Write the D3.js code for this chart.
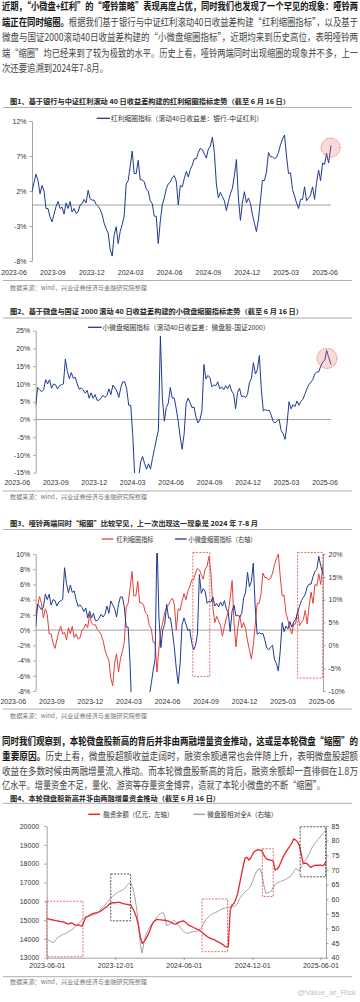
<!DOCTYPE html>
<html><head><meta charset="utf-8">
<script src="https://cdn.jsdelivr.net/npm/d3@7"></script>
<style>body{margin:0;background:#fff}svg{display:block}</style>
</head><body><svg id="c" width="360" height="1002"></svg>
<script>
// ---------------- DATA ----------------
const dates = [
"2023-06-01","2023-06-06","2023-06-11","2023-06-16","2023-06-21","2023-06-26",
"2023-07-01","2023-07-06","2023-07-11","2023-07-16","2023-07-21","2023-07-26","2023-07-31",
"2023-08-05","2023-08-10","2023-08-15","2023-08-20","2023-08-25","2023-08-30",
"2023-09-04","2023-09-09","2023-09-14","2023-09-19","2023-09-24","2023-09-29",
"2023-10-04","2023-10-09","2023-10-14","2023-10-19","2023-10-24","2023-10-29",
"2023-11-03","2023-11-08","2023-11-13","2023-11-18","2023-11-23","2023-11-28",
"2023-12-03","2023-12-08","2023-12-13","2023-12-18","2023-12-23","2023-12-28",
"2024-01-02","2024-01-07","2024-01-12","2024-01-17","2024-01-22","2024-01-27",
"2024-02-01","2024-02-06","2024-02-11","2024-02-16","2024-02-21","2024-02-26",
"2024-03-02","2024-03-07","2024-03-12","2024-03-17","2024-03-22","2024-03-27",
"2024-04-01","2024-04-06","2024-04-11","2024-04-16","2024-04-21","2024-04-26",
"2024-05-01","2024-05-06","2024-05-11","2024-05-16","2024-05-21","2024-05-26","2024-05-31",
"2024-06-05","2024-06-10","2024-06-15","2024-06-20","2024-06-25","2024-06-30",
"2024-07-05","2024-07-10","2024-07-15","2024-07-20","2024-07-25","2024-07-30",
"2024-08-04","2024-08-09","2024-08-14","2024-08-19","2024-08-24","2024-08-29",
"2024-09-03","2024-09-08","2024-09-13","2024-09-18","2024-09-23","2024-09-28",
"2024-10-03","2024-10-08","2024-10-13","2024-10-18","2024-10-23","2024-10-28",
"2024-11-02","2024-11-07","2024-11-12","2024-11-17","2024-11-22","2024-11-27",
"2024-12-02","2024-12-07","2024-12-12","2024-12-17","2024-12-22","2024-12-27",
"2025-01-01","2025-01-06","2025-01-11","2025-01-16","2025-01-21","2025-01-26","2025-01-31",
"2025-02-05","2025-02-10","2025-02-15","2025-02-20","2025-02-25",
"2025-03-02","2025-03-07","2025-03-12","2025-03-17","2025-03-22","2025-03-27",
"2025-04-01","2025-04-06","2025-04-11","2025-04-16","2025-04-21","2025-04-26",
"2025-05-01","2025-05-06","2025-05-11","2025-05-16","2025-05-21","2025-05-26","2025-05-31",
"2025-06-05","2025-06-10","2025-06-16"];

// 红利缩圈指标 (%), used in 图1 and 图3 (left axis)
const dividendSqueeze = [
1.9,3.2,4.4,3.5,1.6,2.8,2.0,-0.5,-0.5,-1.7,
-2.4,-1.3,-0.2,0.5,-0.5,-0.3,-1.3,0.3,-0.5,0.5,
-1,-0.5,-1.2,-1,0,0.2,0.8,0.3,2.1,0.9,
0.7,0.7,0.1,-0.2,-0.6,-1.4,-2.6,-3.4,-4,-6.3,
-7.3,-4.3,-3.1,-5.5,-3.8,-2.8,-1.6,3.0,3.5,5.5,
7.7,4.5,4.5,6.4,3.6,3.6,3.3,2.3,2,0.6,
0.2,-1.6,-1.6,-5.5,-2.4,0,1,2.3,3,3.3,
3.9,4.2,3.4,0,2.8,2.6,3.8,4.8,4,5.1,
5.7,6.6,6.6,7.5,8.1,7.9,7.3,6.7,8,8.4,
9.7,7.5,3,1,1.8,1.2,0.6,-0.8,0.5,1.6,
2.4,4.2,6.5,1,-2.2,0.4,1.9,0.3,1,0.2,
-1.4,-2.6,-3.8,-2,0.7,3.5,3.5,4.7,7.5,6.9,
6.9,6.6,6.8,7.5,8.6,9.4,10,7,4.5,4.6,
2.2,1.3,0.3,-0.5,0.8,0.8,2.6,0.6,1,1.4,
2.6,0.8,3.2,5,3.5,6,5.8,7.4,6,8.5];

// 小微盘缩圈指标 (%), used in 图2 and 图3 (right axis)
const smallCapSqueeze = [
4,9,8.4,7.8,8.4,11.2,10,11.2,8.8,10,
9.8,8.6,9.5,9.8,10,17,13.5,11.5,13.2,11.6,
11.9,10,8.5,8.9,8.3,7.4,8.2,6,7.5,6,
7,5.4,5.4,6,6.8,6.2,6.8,8.6,7,9.7,
8.9,8,6.2,9,10.6,10.6,8.5,4,4,-4,
-15.5,-17,-16.5,-12,-10.4,-12.4,-14,-12.5,-14,-11,
-8.4,-5.5,-3,23.5,6,-0.5,3.4,4.6,9,6,
6,3,-0.5,-5,-8.4,-4,4.5,6,4.7,3.3,
3.5,0.6,-1,0,2.5,15.5,11.4,12.4,11.8,9.2,
9.7,9.5,10.6,8.6,9.2,8.4,9.5,8.6,9.8,8,
7.2,3,7.6,8.8,6.4,6.6,6.2,7,10.4,11.6,
16,12.8,14,18,8.4,2.4,2.8,2.5,2.6,1.2,
-0.6,-1,-0.4,0,-3.1,-4,-5.6,-1.2,5,3,
4.2,3.6,5.2,4,5.1,5.7,7.1,8.6,9.8,10.5,
11.2,12.8,13.4,13.4,15,16.2,16.6,19.5,17.5,15.5];

// 融资余额 (亿元)
const marginBalance = [
15090,15060,15030,15010,14990,14965,14950,14930,14910,14900,
14850,14800,14800,14850,14820,14740,14720,14750,14700,14680,
14950,15150,15200,15270,15320,15350,15380,15400,15430,15480,
15560,15640,15700,15800,15900,15920,15920,15930,15940,15940,
15900,15870,15850,15830,15810,15790,15600,15400,15120,14700,
14115,13760,13850,14000,14200,14400,14700,14900,14980,15035,
15020,15010,15000,14990,14970,14940,14910,14850,14800,14790,
14850,14900,14930,14960,14900,14800,14720,14680,14630,14580,
14530,14480,14440,14350,14260,14180,14100,14050,14000,13980,
13930,13870,13820,13760,13700,13620,13580,13580,15500,15800,
15880,16100,16400,16900,17400,17900,18300,18330,18190,18300,
18500,18650,18700,18740,18720,18680,18450,18300,18220,18200,
18170,18150,17650,17700,17820,18050,18300,18480,18650,18800,
18950,19100,19320,19250,19160,18950,18500,18010,18020,18010,
17900,17800,17850,17900,17920,17900,17930,17900,17920,18100];

// 微盘股相对全A
const microVsA = [
46.3,46,45.7,45.2,45.3,46.3,46.9,47.3,47.7,48,
48.3,48.6,49,49.4,49.8,50.5,51.2,51.7,52.4,53,
53.7,54,54.1,54.2,54.4,54.6,54.9,55.2,55.9,56.7,
57.2,57.9,58.7,59.5,60.3,60.8,61.4,62,62.4,62.7,
63,63.3,64,64.8,65.4,65.4,63.8,61,57,51.6,
44.5,41.5,45.5,47.8,49.3,50.4,51.4,52.1,53.1,54,
54.7,55.2,55.5,54.5,51,51.2,51.7,52.3,52.8,52.2,
51.5,50.5,49.8,49,48.6,48.3,48.5,48.8,48.9,48.9,
48.9,49.3,49.9,50.6,51.8,53,53.7,54.3,54.8,55.1,
55.4,55.7,56,56.4,56.7,56.9,57.1,57.2,57.4,57.5,
57.6,57.8,58.7,60.2,61,61.8,62.5,63,63.7,64.6,
66.2,67.9,69.3,70.2,70.4,68.5,64.8,62,62.2,62.4,
62.8,64,65,65.5,65.8,66.1,66.3,66.5,66.9,67.3,
67.6,68.5,69.5,70.5,70.1,69.8,71,72,73,74,
75.4,76.6,77.9,78.8,79.6,80.4,81.2,82,82.8,83.6];

const monthLabels = ["2023-06","2023-09","2023-12","2024-03","2024-06","2024-09","2024-12","2025-03","2025-06"];
const yTicks1 = [-8,-3,2,7,12];
const yTicks2 = [-15,-10,-5,0,5,10,15,20,25];
const yTicks3L = [-8,-6,-4,-2,0,2,4,6,8,10];
const yTicks3R = [-10,-5,0,5,10,15,20];
const yTicks4L = [13000,14000,15000,16000,17000,18000,19000,20000];
const yTicks4R = [40,45,50,55,60,65,70,75,80,85];
const xTicks4 = ["2023-06-01","2023-12-01","2024-06-01","2024-12-01","2025-06-01"];

const circle1 = {date:"2025-06-15", value:8.2};
const circle2 = {date:"2025-06-06", value:17.2};
const boxes3 = [
 {from:"2024-07-13", to:"2024-08-26", top:10.2, bottom:-6.1},
 {from:"2025-04-11", to:"2025-06-15", top:10.2, bottom:-6.3}];
const boxes4 = [
 {from:"2023-06-01", to:"2023-09-06", top:16000, bottom:13050, kind:"red"},
 {from:"2023-11-19", to:"2024-01-11", top:17450, bottom:14960, kind:"black"},
 {from:"2024-07-20", to:"2024-09-26", top:16120, bottom:13320, kind:"red"},
 {from:"2024-12-28", to:"2025-01-26", top:18790, bottom:16250, kind:"red"},
 {from:"2025-04-08", to:"2025-06-15", top:19960, bottom:17300, kind:"black"}];

const para1 = [
 {y:6, w:356, parts:[["近期，“小微盘+红利”的“哑铃策略”表现再度占优，同时我们也发现了一个罕见的现象：哑铃两",1]]},
 {y:21.5, w:356, parts:[["端正在同时缩圈。",1],["根据我们基于银行与中证红利滚动40日收益差构建“红利缩圈指标”，以及基于",0]]},
 {y:37, w:356, parts:[["微盘与国证2000滚动40日收益差构建的“小微盘缩圈指标”，近期均来到历史高位，表明哑铃两",0]]},
 {y:52.5, w:356, parts:[["端“缩圈”均已经来到了较为极致的水平。历史上看，哑铃两端同时出现缩圈的现象并不多，上一",0]]},
 {y:68, w:106, parts:[["次还要追溯到2024年7-8月。",0]]}];
const para2 = [
 {y:741, w:356, parts:[["同时我们观察到，本轮微盘股新高的背后并非由两融增量资金推动，这或是本轮微盘“缩圈”的",1]]},
 {y:756, w:356, parts:[["重要原因。",1],["历史上看，微盘股超额收益走阔时，融资余额通常也会伴随上升，表明微盘股超额",0]]},
 {y:771, w:356, parts:[["收益在多数时候由两融增量流入推动。而本轮微盘股新高的背后，融资余额却一直徘徊在1.8万",0]]},
 {y:785, w:323, parts:[["亿水平。增量资金不足，量化、游资等存量资金博弈，造就了本轮小微盘的不断“缩圈”。",0]]}];

const titles = [
 {y:101, w:280, t:"图1、基于银行与中证红利滚动 40 日收益差构建的红利缩圈指标走势（截至 6 月 16 日）"},
 {y:311, w:293, t:"图2、基于微盘与国证 2000 滚动 40 日收益差构建的小微盘缩圈指标走势（截至 6 月 16 日）"},
 {y:522.7, w:248, t:"图3、哑铃两端同时“缩圈”比较罕见，上一次出现这一现象是 2024 年 7-8 月"},
 {y:798.3, w:210, t:"图4、本轮微盘股新高并非由两融增量资金推动（截至 6 月 16 日）"}];
const sourceText = "数据来源：wind，兴业证券经济与金融研究院整理";

// ---------------- DRAW ----------------
const svg = d3.select("#c");
const parse = d3.timeParse("%Y-%m-%d");
const D = dates.map(parse);
const CJK = "'Noto Sans CJK SC','Noto Sans',sans-serif";
const LAT = "'Liberation Sans',Arial,'Noto Sans CJK SC',sans-serif";
const BLUE = "#1f3a93", RED = "#e2403c", GRAY = "#a3a3a3", AX = "#8c8c8c";

function text(x, y, s, o = {}) {
  const t = svg.append("text")
    .attr("font-family", o.ff || CJK).attr("font-size", o.fs || 7)
    .attr("fill", o.fill || "#333").attr("text-anchor", o.anchor || "start")
    .attr("dominant-baseline", "central");
  if (o.sy) t.attr("x", 0).attr("y", 0).attr("transform", `translate(${x},${y}) scale(1,${o.sy})`);
  else t.attr("x", x).attr("y", y);
  if (o.bold) t.attr("font-weight", "bold");
  if (Array.isArray(s)) s.forEach(p => t.append("tspan").attr("font-weight", p[1] ? "bold" : "normal")
      .attr("fill", p[1] ? "#151515" : (o.fill || "#444")).text(p[0]));
  else t.text(s);
  if (o.w) t.attr("textLength", o.w).attr("lengthAdjust", "spacingAndGlyphs");
  return t;
}
function hline(x1, x2, y, c = "#9a9a9a", w = 0.8) {
  svg.append("line").attr("x1", x1).attr("x2", x2).attr("y1", y).attr("y2", y).attr("stroke", c).attr("stroke-width", w);
}

para1.forEach(l => text(2, l.y, l.parts, {fs: 8, sy: 1.25, w: l.w, fill: "#444"}));
para2.forEach(l => text(2, l.y, l.parts, {fs: 8, sy: 1.25, w: l.w, fill: "#444"}));

titles.forEach(t => text(10, t.y, t.t, {fs: 6.6, bold: true, w: t.w, fill: "#222"}));
[107.5, 318, 529.5, 803.3].forEach(y => hline(3, 352, y));
[280.5, 491, 709, 976.7].forEach(y => hline(3, 352, y));
[287, 496.7, 715, 981.7].forEach(y => text(10, y, sourceText, {fs: 6, w: 137, fill: "#777"}));

let clipId = 0;
function clip(x0, y0, x1, y1) {
  const id = "clip" + (clipId++);
  svg.append("clipPath").attr("id", id).append("rect").attr("x", x0).attr("y", y0).attr("width", x1 - x0).attr("height", y1 - y0);
  return "url(#" + id + ")";
}
function drawLine(x, y, vals, color, width, clipUrl) {
  const line = d3.line().x((d, i) => x(D[i])).y(d => y(d));
  svg.append("path").datum(vals).attr("d", line).attr("fill", "none")
    .attr("stroke", color).attr("stroke-width", width).attr("stroke-linejoin", "round")
    .attr("clip-path", clipUrl);
}
function yAxis(scale, xPos, ticks, side, fmt, pad) {
  const ax = (side === "left" ? d3.axisLeft(scale) : d3.axisRight(scale))
    .tickValues(ticks).tickSize(2.5).tickSizeOuter(0).tickPadding(pad || 3).tickFormat(fmt);
  const g = svg.append("g").attr("transform", `translate(${xPos},0)`).call(ax);
  g.selectAll("path,line").attr("stroke", AX).attr("stroke-width", 0.8);
  g.selectAll("text").attr("font-family", LAT).attr("font-size", 7).attr("fill", "#333");
}
function monthAxis(x0, x1, y) {
  const p = d3.scalePoint().domain(monthLabels).range([x0, x1]);
  svg.append("g").selectAll("text").data(monthLabels).join("text")
    .attr("x", d => p(d)).attr("y", y).attr("text-anchor", "middle").attr("dominant-baseline", "central")
    .attr("font-family", LAT).attr("font-size", 7).attr("fill", "#333").text(d => d);
}
const pct = d => d + "%";

// ---- Chart 1
{
  const x = d3.scaleTime().domain([D[0], D[D.length - 1]]).range([32, 331]);
  const y = d3.scaleLinear().domain([-8, 12]).range([261, 121]);
  yAxis(y, 32, yTicks1, "left", pct, 3);
  svg.append("line").attr("x1", 32).attr("x2", 331).attr("y1", y(0)).attr("y2", y(0)).attr("stroke", AX).attr("stroke-width", 0.8);
  monthAxis(14, 325, 272);
  drawLine(x, y, dividendSqueeze, BLUE, 1, clip(32, 119, 333, 262));
  svg.append("circle").attr("cx", x(parse(circle1.date))).attr("cy", y(circle1.value)).attr("r", 9.5)
    .attr("fill", "rgba(238,120,120,0.28)").attr("stroke", "#e04545").attr("stroke-width", 0.7).attr("stroke-dasharray", "1.5,1");
  hline(96.7, 110, 118.3, BLUE, 1.3);
  text(111, 118.3, "红利缩圈指标（滚动40日收益差：银行-中证红利）", {fs: 6.8, w: 152, fill: "#333"});
}
// ---- Chart 2
{
  const x = d3.scaleTime().domain([D[0], D[D.length - 1]]).range([35.7, 331]);
  const y = d3.scaleLinear().domain([-15, 25]).range([472.7, 330.7]);
  yAxis(y, 35.7, yTicks2, "left", pct, 3);
  svg.append("line").attr("x1", 35.7).attr("x2", 331).attr("y1", y(0)).attr("y2", y(0)).attr("stroke", AX).attr("stroke-width", 0.8);
  monthAxis(17.3, 325, 482.7);
  drawLine(x, y, smallCapSqueeze, BLUE, 1, clip(35.7, 329, 333, 473));
  svg.append("circle").attr("cx", x(parse(circle2.date))).attr("cy", y(circle2.value)).attr("r", 10)
    .attr("fill", "rgba(238,120,120,0.28)").attr("stroke", "#e04545").attr("stroke-width", 0.7).attr("stroke-dasharray", "1.5,1");
  hline(88, 101.7, 327.3, BLUE, 1.3);
  text(102.5, 327.3, "小微盘缩圈指标（滚动40日收益差：微盘股-国证2000）", {fs: 6.8, w: 167, fill: "#333"});
}
// ---- Chart 3
{
  const x = d3.scaleTime().domain([D[0], D[D.length - 1]]).range([35.7, 323]);
  const yL = d3.scaleLinear().domain([-8, 10]).range([691, 554]);
  const yR = d3.scaleLinear().domain([-10, 20]).range([691, 554]);
  yAxis(yL, 35.7, yTicks3L, "left", pct, 3);
  yAxis(yR, 323, yTicks3R, "right", pct, 3);
  svg.append("line").attr("x1", 35.7).attr("x2", 323).attr("y1", yL(0)).attr("y2", yL(0)).attr("stroke", AX).attr("stroke-width", 0.8);
  monthAxis(13.3, 321.7, 701.7);
  const cp = clip(35.7, 553, 323, 692);
  drawLine(x, yL, dividendSqueeze, RED, 1, cp);
  drawLine(x, yR, smallCapSqueeze, BLUE, 1, cp);
  svg.append("g").selectAll("rect").data(boxes3).join("rect")
    .attr("x", d => x(parse(d.from))).attr("width", d => x(parse(d.to)) - x(parse(d.from)))
    .attr("y", d => yL(d.top)).attr("height", d => yL(d.bottom) - yL(d.top))
    .attr("fill", "none").attr("stroke", "#e04a4a").attr("stroke-width", 0.8).attr("stroke-dasharray", "2,1.3");
  hline(101.7, 113.3, 539, RED, 1.3);
  text(116.5, 539, "红利缩圈指标", {fs: 6.8, w: 37, fill: "#333"});
  hline(175, 186.7, 539, BLUE, 1.3);
  text(188.5, 539, "小微盘缩圈指标（右轴）", {fs: 6.8, w: 68, fill: "#333"});
}
// ---- Chart 4
{
  const x = d3.scaleTime().domain([D[0], D[D.length - 1]]).range([46.7, 326]);
  const yL = d3.scaleLinear().domain([13000, 20000]).range([957.7, 826]);
  const yR = d3.scaleLinear().domain([40, 85]).range([957.7, 826]);
  yAxis(yL, 46.7, yTicks4L, "left", d => d, 5);
  yAxis(yR, 326, yTicks4R, "right", d => d, 3);
  const xa = d3.axisBottom(x).tickValues(xTicks4.map(parse)).tickSize(2.5).tickSizeOuter(0).tickPadding(3).tickFormat(d3.timeFormat("%Y-%m-%d"));
  const g = svg.append("g").attr("transform", "translate(0,957.7)").call(xa);
  g.selectAll("path,line").attr("stroke", AX).attr("stroke-width", 0.8);
  g.selectAll("text").attr("font-family", LAT).attr("font-size", 7).attr("fill", "#333");
  const cp = clip(46.7, 824, 327, 958);
  drawLine(x, yR, microVsA, GRAY, 1, cp);
  drawLine(x, yL, marginBalance, "#e3282c", 1.3, cp);
  svg.append("g").selectAll("rect").data(boxes4).join("rect")
    .attr("x", d => x(parse(d.from))).attr("width", d => x(parse(d.to)) - x(parse(d.from)))
    .attr("y", d => yL(d.top)).attr("height", d => yL(d.bottom) - yL(d.top))
    .attr("fill", "none").attr("stroke", d => d.kind === "red" ? "#e04a4a" : "#2a2a2a")
    .attr("stroke-width", 0.8).attr("stroke-dasharray", "2,1.3");
  hline(88.3, 100, 814.3, "#e3282c", 1.5);
  text(103.3, 814.3, "融资余额（亿元，左轴）", {fs: 6.8, w: 70, fill: "#333"});
  hline(193.3, 205, 814.3, GRAY, 1.5);
  text(207.3, 814.3, "微盘股相对全A（右轴）", {fs: 6.8, w: 70, fill: "#333"});
}
text(356, 992, "@Value_at_Risk", {fs: 8, anchor: "end", fill: "#c4c4c4", ff: LAT});
</script></body></html>
